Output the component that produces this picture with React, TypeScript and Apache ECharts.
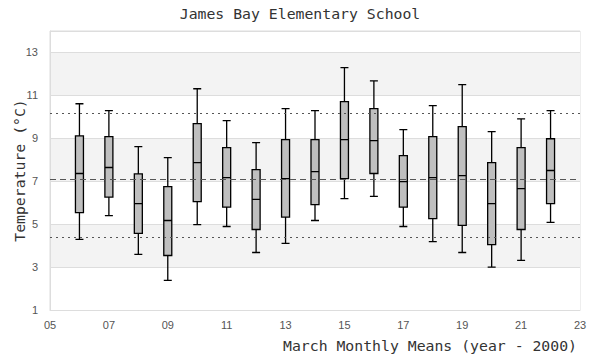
import React, { useEffect, useRef } from "react";
import * as echarts from "echarts";

const categories = ["05","06","07","08","09","10","11","12","13","14","15","16","17","18","19","20","21","22","23"];
const years = ["06","07","08","09","10","11","12","13","14","15","16","17","18","19","20","21","22"];
const mins = [4.29, 5.40, 3.59, 2.38, 4.98, 4.89, 3.68, 4.10, 5.17, 6.19, 6.29, 4.89, 4.19, 3.68, 3.00, 3.31, 5.08];
const q1s = [5.54, 6.26, 4.57, 3.54, 6.05, 5.79, 4.75, 5.33, 5.91, 7.12, 7.36, 5.79, 5.26, 4.94, 4.05, 4.75, 5.96];
const medians = [7.36, 7.64, 5.96, 5.17, 7.87, 7.17, 6.15, 7.12, 7.45, 8.94, 8.89, 6.98, 7.17, 7.26, 5.96, 6.66, 7.50];
const q3s = [9.11, 9.08, 7.34, 6.75, 9.68, 8.57, 7.54, 8.94, 8.94, 10.71, 10.38, 8.19, 9.08, 9.54, 7.87, 8.57, 8.98];
const maxs = [10.61, 10.29, 8.61, 8.10, 11.31, 9.82, 8.80, 10.38, 10.29, 12.29, 11.68, 9.40, 10.52, 11.50, 9.31, 9.91, 10.29];
const meanLine = 7.08;
const upperLine = 10.19;
const lowerLine = 4.38;

const MONO = "'DejaVu Sans Mono', monospace";

export default function App() {
  const ref = useRef<HTMLDivElement>(null);
  useEffect(() => {
    if (!ref.current) return;
    const chart = echarts.init(ref.current, undefined, { renderer: "svg" });
    const source = years.map((y, i) => [y, mins[i], q1s[i], medians[i], q3s[i], maxs[i]]);
    chart.setOption({
      animation: false,
      backgroundColor: "#ffffff",
      title: {
        text: "James Bay Elementary School",
        left: "center",
        top: 1,
        textStyle: { fontFamily: MONO, fontSize: 14.8, fontWeight: "normal", color: "#333" },
      },
      grid: {
        left: 50, right: 20, top: 31, bottom: 50,
        outerBoundsMode: "none",
        containLabel: false,
        show: true, borderColor: "#dddddd", borderWidth: 1, backgroundColor: "transparent",
      },
      dataset: {
        dimensions: ["year", "min", "Q1", "median", "Q3", "max"],
        source,
      },
      xAxis: {
        type: "category",
        data: categories,
        boundaryGap: false,
        name: "March Monthly Means (year - 2000)",
        nameLocation: "end",
        nameGap: -3,
        nameMoveOverlap: false,
        nameTextStyle: {
          fontFamily: MONO, fontSize: 14.8, color: "#333",
          align: "right", verticalAlign: "top", padding: [28, 0, 0, 0],
        },
        axisLine: { lineStyle: { color: "#dddddd" } },
        axisTick: { show: false },
        axisLabel: { interval: 1, color: "#555", fontSize: 11, margin: 9 },
        splitLine: { show: false },
      },
      yAxis: {
        type: "value",
        min: 1,
        max: 14,
        interval: 2,
        name: "Temperature (°C)",
        nameLocation: "middle",
        nameGap: 23,
        nameMoveOverlap: false,
        nameTextStyle: { fontFamily: MONO, fontSize: 14.8, color: "#333" },
        axisLine: { show: true, lineStyle: { color: "#dddddd" } },
        axisTick: { show: false },
        axisLabel: { color: "#555", fontSize: 11, margin: 12, showMaxLabel: false },
        splitLine: { show: true, lineStyle: { color: "#dddddd", width: 1 } },
        splitArea: { show: true, areaStyle: { color: ["#ffffff", "#f3f3f3"] } },
      },
      series: [
        {
          type: "boxplot",
          encode: { x: "year", y: ["min", "Q1", "median", "Q3", "max"] },
          boxWidth: [8, 8],
          itemStyle: { color: "#bfbfbf", borderColor: "#000", borderWidth: 1.3 },
          emphasis: { disabled: true },
          markLine: {
            silent: true,
            symbol: "none",
            label: { show: false },
            data: [
              { yAxis: upperLine, lineStyle: { type: [2, 4], color: "#555", width: 1.2 } },
              { yAxis: meanLine, lineStyle: { type: [6, 4], color: "#555", width: 1.2 } },
              { yAxis: lowerLine, lineStyle: { type: [2, 4], color: "#555", width: 1.2 } },
            ],
          },
        },
      ],
    });
    return () => chart.dispose();
  }, []);
  return <div ref={ref} style={{ width: 600, height: 360, position: "absolute", left: 0, top: 0 }} />;
}
